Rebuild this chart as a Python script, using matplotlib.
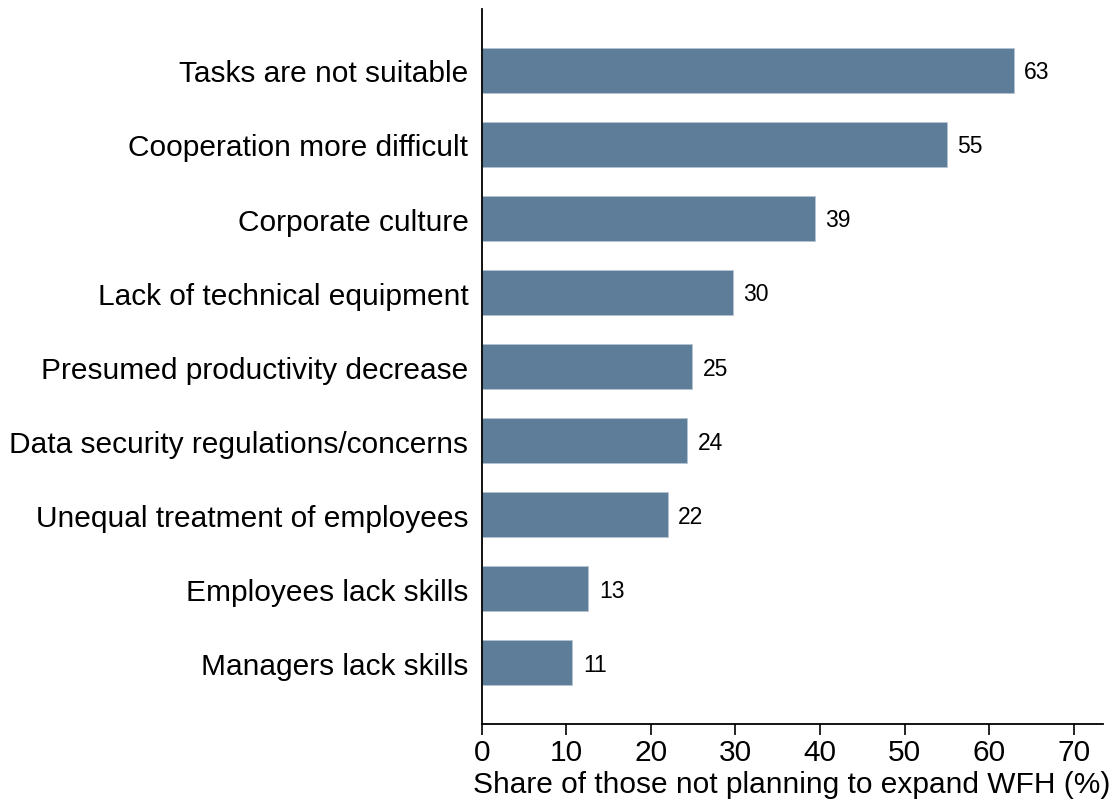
import numpy as np
import matplotlib
matplotlib.use('Agg')
import matplotlib.pyplot as plt

plt.rcParams['font.family'] = ['Liberation Sans', 'DejaVu Sans']

# data (top to bottom)
reasons = ['Tasks are not suitable',
           'Cooperation more difficult',
           'Corporate culture',
           'Lack of technical equipment',
           'Presumed productivity decrease',
           'Data security regulations/concerns',
           'Unequal treatment of employees',
           'Employees lack skills',
           'Managers lack skills']
shares = [62.9, 55.0, 39.4, 29.7, 24.9, 24.3, 22.0, 12.6, 10.7]
xticks = [0, 10, 20, 30, 40, 50, 60, 70]

fig = plt.figure(figsize=(11.16, 8.03), dpi=100)
ax = fig.add_axes([0.4316, 0.0971, 0.5564, 0.8904])

ypos = np.arange(len(reasons))
bars = ax.barh(ypos, shares, height=0.61, color='#5e7d99',
               edgecolor='#b4c4d2', linewidth=0.6)
for b, v in zip(bars, shares):
    ax.text(b.get_width() + 1.25, b.get_y() + b.get_height() / 2 + 0.02,
            '%d' % round(v), va='center', ha='left', fontsize=16.5)

ax.set_yticks(ypos)
ax.set_yticklabels(reasons, fontsize=21.5)
ax.set_ylim(len(reasons) - 1 + 0.83, -0.83)
ax.set_xlim(0, 73.4)
ax.set_xticks(xticks)
ax.tick_params(axis='x', labelsize=21.5, length=8, width=1.2, pad=2)
ax.tick_params(axis='y', length=0, pad=9.5)
ax.set_xlabel('Share of those not planning to expand WFH (%)', fontsize=21.5, labelpad=3)

ax.spines['top'].set_visible(False)
ax.spines['right'].set_visible(False)
ax.spines['left'].set_linewidth(1.3)
ax.spines['bottom'].set_linewidth(1.3)

fig.savefig('out.png', dpi=100)
